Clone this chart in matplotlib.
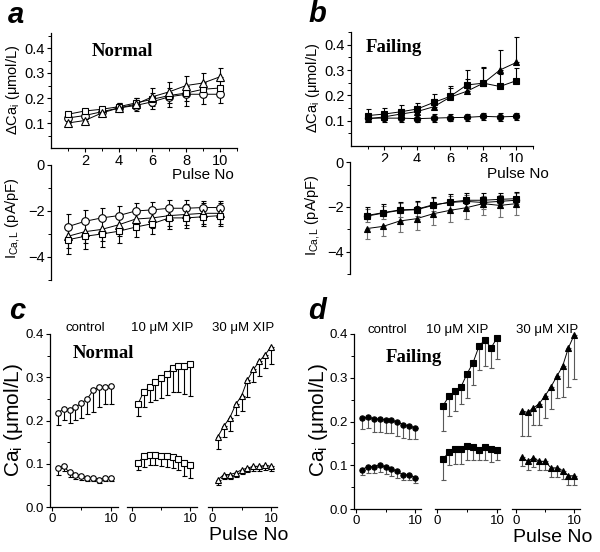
import matplotlib
matplotlib.use("Agg")
import matplotlib.pyplot as plt
import numpy as np

plt.rcParams['font.family'] = ['Liberation Sans', 'DejaVu Sans']
plt.rcParams['mathtext.fontset'] = 'custom'
plt.rcParams['mathtext.rm'] = 'Liberation Sans'
plt.rcParams['mathtext.it'] = 'Liberation Sans:italic'

pulse = np.arange(1, 11)

# ---- Panel a (Normal) ----
a_dca_circle = [0.12, 0.13, 0.145, 0.16, 0.17, 0.185, 0.205, 0.215, 0.215, 0.215]
a_dca_square = [0.135, 0.148, 0.155, 0.165, 0.18, 0.195, 0.21, 0.22, 0.235, 0.24]
a_dca_triangle = [0.10, 0.11, 0.14, 0.16, 0.175, 0.205, 0.225, 0.25, 0.26, 0.285]
a_dca_circle_err = [0.01, 0.01, 0.01, 0.015, 0.02, 0.03, 0.04, 0.045, 0.04, 0.035]
a_dca_square_err = [0.01, 0.01, 0.01, 0.015, 0.02, 0.025, 0.03, 0.03, 0.03, 0.03]
a_dca_triangle_err = [0.01, 0.01, 0.01, 0.02, 0.025, 0.035, 0.04, 0.04, 0.04, 0.035]

a_ica_circle = [-2.68, -2.45, -2.3, -2.2, -2.0, -1.95, -1.88, -1.88, -1.85, -1.85]
a_ica_triangle = [-3.1, -2.9, -2.8, -2.6, -2.35, -2.3, -2.2, -2.15, -2.1, -2.1]
a_ica_square = [-3.25, -3.1, -3.0, -2.88, -2.7, -2.55, -2.3, -2.3, -2.25, -2.2]
a_ica_circle_err = [0.55, 0.5, 0.45, 0.4, 0.35, 0.35, 0.35, 0.35, 0.3, 0.3]
a_ica_triangle_err = [0.5, 0.5, 0.5, 0.5, 0.45, 0.45, 0.45, 0.45, 0.45, 0.45]
a_ica_square_err = [0.6, 0.55, 0.55, 0.5, 0.45, 0.45, 0.5, 0.45, 0.4, 0.45]

# ---- Panel b (Failing) ----
b_dca_square = [0.12, 0.126, 0.135, 0.146, 0.172, 0.196, 0.241, 0.248, 0.235, 0.258]
b_dca_triangle = [0.107, 0.115, 0.126, 0.136, 0.155, 0.193, 0.216, 0.248, 0.30, 0.33]
b_dca_circle = [0.11, 0.11, 0.11, 0.108, 0.11, 0.112, 0.113, 0.117, 0.115, 0.117]
b_dca_square_err = [0.025, 0.025, 0.025, 0.025, 0.035, 0.04, 0.06, 0.065, 0.05, 0.05]
b_dca_triangle_err = [0.02, 0.02, 0.02, 0.02, 0.03, 0.035, 0.05, 0.06, 0.08, 0.1]
b_dca_circle_err = [0.01, 0.015, 0.015, 0.015, 0.015, 0.015, 0.015, 0.015, 0.015, 0.015]

b_ica_square = [-2.41, -2.27, -2.15, -2.12, -1.93, -1.78, -1.7, -1.7, -1.66, -1.63]
b_ica_circle = [-2.38, -2.25, -2.13, -2.1, -1.9, -1.8, -1.75, -1.8, -1.75, -1.7]
b_ica_triangle = [-2.96, -2.86, -2.62, -2.52, -2.3, -2.15, -2.03, -1.85, -1.93, -1.85]
b_ica_square_err = [0.4, 0.4, 0.38, 0.38, 0.38, 0.35, 0.3, 0.3, 0.3, 0.3]
b_ica_circle_err = [0.3, 0.3, 0.3, 0.3, 0.3, 0.3, 0.3, 0.3, 0.3, 0.3]
b_ica_triangle_err = [0.45, 0.45, 0.5, 0.5, 0.5, 0.5, 0.5, 0.5, 0.5, 0.5]

# ---- Panel c (Normal Ca_i) ----
c_titles = ['control', '10 μM XIP', '30 μM XIP']
c_upper = [
    [0.217, 0.227, 0.224, 0.231, 0.24, 0.25, 0.27, 0.277, 0.277, 0.279],
    [0.238, 0.267, 0.277, 0.288, 0.298, 0.308, 0.321, 0.327, 0.327, 0.331],
    [0.163, 0.187, 0.206, 0.237, 0.257, 0.294, 0.318, 0.337, 0.352, 0.371],
]
c_upper_err = [
    [0.028, 0.025, 0.03, 0.03, 0.035, 0.035, 0.05, 0.045, 0.04, 0.042],
    [0.028, 0.035, 0.035, 0.04, 0.045, 0.05, 0.055, 0.06, 0.065, 0.075],
    [0.03, 0.025, 0.03, 0.025, 0.035, 0.04, 0.03, 0.035, 0.03, 0.04],
]
c_lower = [
    [0.09, 0.094, 0.08, 0.075, 0.071, 0.067, 0.067, 0.063, 0.067, 0.067],
    [0.102, 0.117, 0.121, 0.121, 0.119, 0.117, 0.116, 0.111, 0.102, 0.096],
    [0.063, 0.075, 0.075, 0.079, 0.086, 0.09, 0.094, 0.094, 0.096, 0.094],
]
c_lower_err = [
    [0.015, 0.01, 0.01, 0.01, 0.008, 0.008, 0.008, 0.008, 0.008, 0.008],
    [0.017, 0.025, 0.025, 0.025, 0.025, 0.025, 0.025, 0.025, 0.03, 0.03],
    [0.012, 0.01, 0.01, 0.01, 0.01, 0.01, 0.01, 0.01, 0.01, 0.01],
]

# ---- Panel d (Failing Ca_i) ----
d_upper = [
    [0.208, 0.21, 0.206, 0.206, 0.204, 0.203, 0.198, 0.193, 0.19, 0.185],
    [0.236, 0.258, 0.269, 0.279, 0.309, 0.334, 0.372, 0.387, 0.368, 0.391],
    [0.223, 0.221, 0.231, 0.241, 0.259, 0.279, 0.303, 0.326, 0.368, 0.398],
]
d_upper_err = [
    [0.025, 0.025, 0.03, 0.03, 0.03, 0.03, 0.03, 0.03, 0.03, 0.025],
    [0.058, 0.045, 0.045, 0.04, 0.055, 0.05, 0.055, 0.06, 0.045, 0.048],
    [0.057, 0.055, 0.04, 0.05, 0.05, 0.05, 0.05, 0.07, 0.09, 0.10],
]
d_lower = [
    [0.09, 0.097, 0.097, 0.1, 0.096, 0.091, 0.086, 0.078, 0.078, 0.071],
    [0.114, 0.13, 0.137, 0.137, 0.143, 0.142, 0.136, 0.141, 0.138, 0.136],
    [0.119, 0.109, 0.117, 0.109, 0.109, 0.094, 0.094, 0.088, 0.076, 0.076],
]
d_lower_err = [
    [0.012, 0.015, 0.015, 0.015, 0.015, 0.015, 0.015, 0.012, 0.012, 0.012],
    [0.047, 0.03, 0.035, 0.035, 0.03, 0.03, 0.025, 0.03, 0.03, 0.025],
    [0.02, 0.02, 0.02, 0.02, 0.02, 0.02, 0.02, 0.02, 0.02, 0.02],
]

W, H = 600, 552
fig = plt.figure(figsize=(6, 5.52), dpi=100)


def rect(x0, y0, x1, y1):
    return [x0 / W, 1 - y1 / H, (x1 - x0) / W, (y1 - y0) / H]


def series(ax, y, err, marker, filled, ms, mode, ecolor='black'):
    e = np.asarray(err)
    z = np.zeros_like(e)
    if mode == 'up':
        yerr = [z, e]
    elif mode == 'down':
        yerr = [e, z]
    else:
        yerr = [e, e]
    ax.errorbar(pulse, y, yerr=yerr, fmt='-', color='black', lw=0.7,
                marker=marker, ms=ms, mfc='black' if filled else 'white',
                mec='black', mew=0.8, ecolor=ecolor, elinewidth=0.8,
                capsize=1.8, capthick=0.8, clip_on=False, zorder=3)


def style(ax, fs):
    ax.tick_params(direction='out', length=3, width=0.8, labelsize=fs, pad=1.5)
    ax.tick_params(which='minor', direction='out', length=2, width=0.7)
    for s in ['top', 'right']:
        ax.spines[s].set_visible(False)
    for s in ['left', 'bottom']:
        ax.spines[s].set_linewidth(0.9)


# ---------------- Panel a ----------------
ax = fig.add_axes(rect(51, 33, 237, 148))
series(ax, a_dca_circle, a_dca_circle_err, 'o', False, 5.5, 'down')
series(ax, a_dca_square, a_dca_square_err, 's', False, 5, 'both')
series(ax, a_dca_triangle, a_dca_triangle_err, '^', False, 6, 'up')
ax.set_xlim(0, 11)
ax.set_ylim(0, 0.46)
ax.set_xticks([2, 4, 6, 8, 10])
ax.set_xticks([1, 3, 5, 7, 9, 11], minor=True)
ax.set_yticks([0.1, 0.2, 0.3, 0.4])
ax.set_yticks([0.05, 0.15, 0.25, 0.35, 0.45], minor=True)
style(ax, 10.5)
fig.text(122 / W, 1 - 51 / H, 'Normal', ha='center', va='center',
         family='Liberation Serif', weight='bold', fontsize=13.5)

ax = fig.add_axes(rect(51, 165, 237, 280))
series(ax, a_ica_circle, a_ica_circle_err, 'o', False, 5.5, 'up')
series(ax, a_ica_triangle, a_ica_triangle_err, '^', False, 6, 'both')
series(ax, a_ica_square, a_ica_square_err, 's', False, 5, 'down')
ax.set_xlim(0, 11)
ax.set_ylim(-5, 0)
ax.set_yticks([0, -2, -4])
ax.set_yticks([-1, -3, -5], minor=True)
ax.set_xticks([])
style(ax, 10.5)
ax.spines['bottom'].set_visible(False)

fig.text(203 / W, 1 - 175 / H, 'Pulse No', ha='center', va='center', fontsize=11)
fig.text(13 / W, 1 - 90 / H, r'ΔCa$_\mathregular{i}$ (μmol/L)', rotation=90,
         ha='center', va='center', fontsize=10.5)
fig.text(13 / W, 1 - 218 / H, r'I$_\mathregular{Ca,L}$ (pA/pF)', rotation=90,
         ha='center', va='center', fontsize=10.5)

# ---------------- Panel b ----------------
ax = fig.add_axes(rect(351, 32, 533, 146))
series(ax, b_dca_circle, b_dca_circle_err, 'o', True, 4.5, 'both')
series(ax, b_dca_square, b_dca_square_err, 's', True, 4.5, 'up')
series(ax, b_dca_triangle, b_dca_triangle_err, '^', True, 5, 'up')
ax.set_xlim(0, 11)
ax.set_ylim(0, 0.45)
ax.set_xticks([2, 4, 6, 8, 10])
ax.set_xticks([1, 3, 5, 7, 9, 11], minor=True)
ax.set_yticks([0.1, 0.2, 0.3, 0.4])
ax.set_yticks([0.05, 0.15, 0.25, 0.35, 0.45], minor=True)
style(ax, 10.5)
fig.text(394 / W, 1 - 48 / H, 'Failing', ha='center', va='center',
         family='Liberation Serif', weight='bold', fontsize=13.5)

ax = fig.add_axes(rect(350, 162, 533, 274.5))
series(ax, b_ica_circle, b_ica_circle_err, 'o', True, 4.5, 'both', ecolor='0.4')
series(ax, b_ica_square, b_ica_square_err, 's', True, 4.5, 'up')
series(ax, b_ica_triangle, b_ica_triangle_err, '^', True, 5, 'down', ecolor='0.45')
ax.set_xlim(0, 11)
ax.set_ylim(-5, 0)
ax.set_yticks([0, -2, -4])
ax.set_yticks([-1, -3, -5], minor=True)
ax.set_xticks([])
style(ax, 10.5)
ax.spines['bottom'].set_visible(False)

fig.text(518 / W, 1 - 174 / H, 'Pulse No', ha='center', va='center', fontsize=11)
fig.text(313 / W, 1 - 88 / H, r'ΔCa$_\mathregular{i}$ (μmol/L)', rotation=90,
         ha='center', va='center', fontsize=10.5)
fig.text(313 / W, 1 - 215 / H, r'I$_\mathregular{Ca,L}$ (pA/pF)', rotation=90,
         ha='center', va='center', fontsize=10.5)

sub_markers = ['o', 's', '^']


# ---------------- Panels c, d ----------------
def ca_panel(spans, ybounds, xlims, upper, upper_err, lower, lower_err,
             filled, ms, ecolor, title_pos):
    y0, y1 = ybounds
    for i, ((x0, x1), xl) in enumerate(zip(spans, xlims)):
        ax = fig.add_axes(rect(x0, y0, x1, y1))
        m = sub_markers[i]
        msz = ms + (0.6 if m == '^' else 0)
        series(ax, upper[i], upper_err[i], m, filled, msz, 'down', ecolor)
        series(ax, lower[i], lower_err[i], m, filled, msz, 'down', ecolor)
        ax.set_xlim(*xl)
        ax.set_ylim(0, 0.4)
        ax.set_xticks([0, 10])
        ax.set_xticks([5], minor=True)
        style(ax, 9.5)
        if i == 0:
            ax.set_yticks([0.0, 0.1, 0.2, 0.3, 0.4])
            ax.set_yticklabels(['0.0', '0.1', '0.2', '0.3', '0.4'])
            ax.set_yticks([0.05, 0.15, 0.25, 0.35], minor=True)
        else:
            ax.spines['left'].set_visible(False)
            ax.set_yticks([])
        tx, ty = title_pos[i]
        fig.text(tx / W, 1 - ty / H, c_titles[i], ha='center', va='center',
                 fontsize=9.5)


ca_panel([(50, 118), (127, 197), (208, 277)], (334, 507),
         [(-0.3, 11.2), (-0.9, 11.2), (-0.68, 11.0)],
         c_upper, c_upper_err, c_lower, c_lower_err, False, 4, 'black',
         [(85, 328), (162, 328), (243, 328)])
fig.text(103 / W, 1 - 354 / H, 'Normal', ha='center', va='center',
         family='Liberation Serif', weight='bold', fontsize=13.5)
fig.text(249 / W, 1 - 536 / H, 'Pulse No', ha='center', va='center', fontsize=14)
fig.text(14 / W, 1 - 420 / H, r'Ca$_\mathregular{i}$ (μmol/L)', rotation=90,
         ha='center', va='center', fontsize=15)

ca_panel([(354, 421), (435, 500), (512, 580)], (334, 509),
         [(-0.34, 11.0), (-0.33, 10.5), (-0.69, 11.0)],
         d_upper, d_upper_err, d_lower, d_lower_err, True, 3.8, '0.35',
         [(387, 330), (457, 330), (547, 330)])
fig.text(414 / W, 1 - 357 / H, 'Failing', ha='center', va='center',
         family='Liberation Serif', weight='bold', fontsize=13.5)
fig.text(553 / W, 1 - 537 / H, 'Pulse No', ha='center', va='center', fontsize=14)
fig.text(318 / W, 1 - 420 / H, r'Ca$_\mathregular{i}$ (μmol/L)', rotation=90,
         ha='center', va='center', fontsize=15)

# panel letters
for lbl, (x, y) in zip('abcd', [(16, 15), (317, 14), (17, 311), (317, 311)]):
    fig.text(x / W, 1 - y / H, lbl, ha='center', va='center', fontsize=21,
             weight='bold', style='italic')

fig.savefig('out.png', dpi=100)
